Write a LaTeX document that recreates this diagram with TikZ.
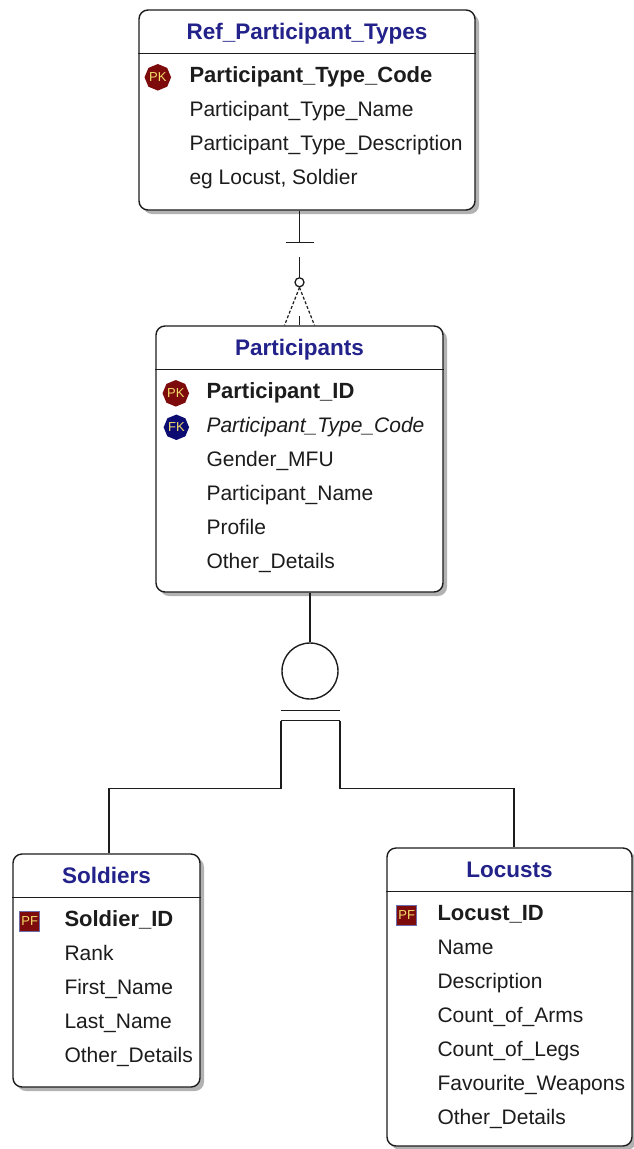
\documentclass[tikz,border=0pt]{standalone}
\usepackage{fontspec}
\setmainfont{Liberation Sans}
\usetikzlibrary{positioning,shapes.geometric,shadows}

\definecolor{titleblue}{HTML}{22228A}
\definecolor{keyred}{HTML}{7D0B0B}
\definecolor{keyblue}{HTML}{0B0B72}
\definecolor{keytext}{HTML}{F2DC6A}
\definecolor{ink}{HTML}{1C1C1C}

\tikzset{table/.style={ % box of one entity
            draw=ink, line width=1.4pt,
            rounded corners=9pt,
            fill=white, inner sep=0pt,
            drop shadow={shadow xshift=4pt, shadow yshift=-4pt, opacity=.3, fill=black}},
        title/.style={ % entity name in the header
            inner sep=0pt, text height=16pt, text depth=5pt,
            text=titleblue, font=\fontsize{22.5}{27}\selectfont\bfseries},
        field/.style={ % one attribute line
            anchor=west, inner sep=0pt, text height=15pt, text depth=4.5pt,
            text=ink, font=\fontsize{21}{25}\selectfont},
        keyfield/.style={field, font=\fontsize{22}{26}\selectfont\bfseries},
        fkfield/.style={field, font=\fontsize{21}{25}\selectfont\itshape},
        row after/.style={below=34pt of #1.west, anchor=west}, % next attribute down
        pk/.style={ % key markers
            regular polygon, regular polygon sides=8, shape border rotate=22.5,
            minimum size=24pt, inner sep=0pt,
            fill=keyred, text=keytext, font=\fontsize{13}{13}\selectfont},
        fk/.style={pk, fill=keyblue},
        pf/.style={
            rectangle, minimum size=20pt, inner sep=0pt,
            fill=keyred, draw=keyblue!60!white, line width=1.2pt,
            text=keytext, font=\fontsize{13}{13}\selectfont},
        link/.style={draw=ink, line width=1.4pt},
        header/.style={draw=ink, line width=1.4pt}
        }

\begin{document}
\begin{tikzpicture}[x=1pt, y=-1pt] % screen units, y grows downwards
    \useasboundingbox (0,0) rectangle (634,1149);

    % entities
    \node[table, minimum width=336pt, minimum height=200pt] (ref)  at (307,110)    {};
    \node[table, minimum width=287pt, minimum height=266pt] (part) at (299.5,459)  {};
    \node[table, minimum width=187pt, minimum height=233pt] (sold) at (106.5,970.5) {};
    \node[table, minimum width=245pt, minimum height=298pt] (loc)  at (509.5,997)  {};

    % Ref_Participant_Types
    \node[title] (refT) at ([shift={(0,25)}]ref.north) {Ref\_Participant\_Types};
    \draw[header] ([shift={(0,44)}]ref.north west) -- ([shift={(0,44)}]ref.north east);
    \node[keyfield]            (rp1) at ([shift={(51,68)}]ref.north west) {Participant\_Type\_Code};
    \node[field, row after=rp1] (rp2) {Participant\_Type\_Name};
    \node[field, row after=rp2] (rp3) {Participant\_Type\_Description};
    \node[field, row after=rp3] (rp4) {eg Locust, Soldier};
    \node[pk, left=18pt of rp1] (refpk) {PK};

    % Participants
    \node[title] (partT) at ([shift={(0,25)}]part.north) {Participants};
    \draw[header] ([shift={(0,44)}]part.north west) -- ([shift={(0,44)}]part.north east);
    \node[keyfield]            (pa1) at ([shift={(51,68)}]part.north west) {Participant\_ID};
    \node[fkfield, row after=pa1] (pa2) {Participant\_Type\_Code};
    \node[field, row after=pa2] (pa3) {Gender\_MFU};
    \node[field, row after=pa3] (pa4) {Participant\_Name};
    \node[field, row after=pa4] (pa5) {Profile};
    \node[field, row after=pa5] (pa6) {Other\_Details};
    \node[pk, left=17pt of pa1] (partpk) {PK};
    \node[fk, left=17pt of pa2] (partfk) {FK};

    % Soldiers
    \node[title] (soldT) at ([shift={(0,25)}]sold.north) {Soldiers};
    \draw[header] ([shift={(0,44)}]sold.north west) -- ([shift={(0,44)}]sold.north east);
    \node[keyfield]            (so1) at ([shift={(52,68)}]sold.north west) {Soldier\_ID};
    \node[field, row after=so1] (so2) {Rank};
    \node[field, row after=so2] (so3) {First\_Name};
    \node[field, row after=so3] (so4) {Last\_Name};
    \node[field, row after=so4] (so5) {Other\_Details};
    \node[pf, left=24pt of so1] (soldpf) {PF};

    % Locusts
    \node[title] (locT) at ([shift={(0,25)}]loc.north) {Locusts};
    \draw[header] ([shift={(0,44)}]loc.north west) -- ([shift={(0,44)}]loc.north east);
    \node[keyfield]            (lo1) at ([shift={(51,68)}]loc.north west) {Locust\_ID};
    \node[field, row after=lo1] (lo2) {Name};
    \node[field, row after=lo2] (lo3) {Description};
    \node[field, row after=lo3] (lo4) {Count\_of\_Arms};
    \node[field, row after=lo4] (lo5) {Count\_of\_Legs};
    \node[field, row after=lo5] (lo6) {Favourite\_Weapons};
    \node[field, row after=lo6] (lo7) {Other\_Details};
    \node[pf, left=20pt of lo1] (locpf) {PF};

    % one type -- zero or many participants
    \coordinate (reftop) at (ref.south -| part.north);
    \draw[link] (reftop) -- ++(0,32);
    \draw[link] ([shift={(-14,32)}]reftop) -- ([shift={(14,32)}]reftop);
    \node[draw=ink, line width=1.3pt, circle, minimum size=9pt, inner sep=0pt] (zero)
        at ([shift={(0,-43)}]part.north) {};
    \draw[link] (zero.north) -- ++(0,-20);
    \draw[link, line width=1.2pt, dash pattern=on 3pt off 2pt] (zero.south) -- ([xshift=-15pt]part.north);
    \draw[link, line width=1.2pt, dash pattern=on 3pt off 2pt] (zero.south) -- ([xshift=15pt]part.north);
    \draw[link] (part.north) -- ++(0,-9);

    % participant subtypes
    \node[draw=ink, line width=1.4pt, circle, minimum size=56pt, inner sep=0pt] (cat) at (310,671) {};
    \draw[link] (cat.north) -- (cat.north |- part.south);
    \coordinate (catL) at ([shift={(-29,21)}]cat.south);
    \coordinate (catR) at ([shift={(30,21)}]cat.south);
    \draw[link] ([shift={(-29,11)}]cat.south) -- ([shift={(30,11)}]cat.south);
    \draw[link] (catL) -- (catR);
    \draw[link] (catL) -- ++(0,68) -| ([xshift=2.5pt]sold.north);
    \draw[link] (catR) -- ++(0,68) -| ([xshift=4.5pt]loc.north);
\end{tikzpicture}
\end{document}
